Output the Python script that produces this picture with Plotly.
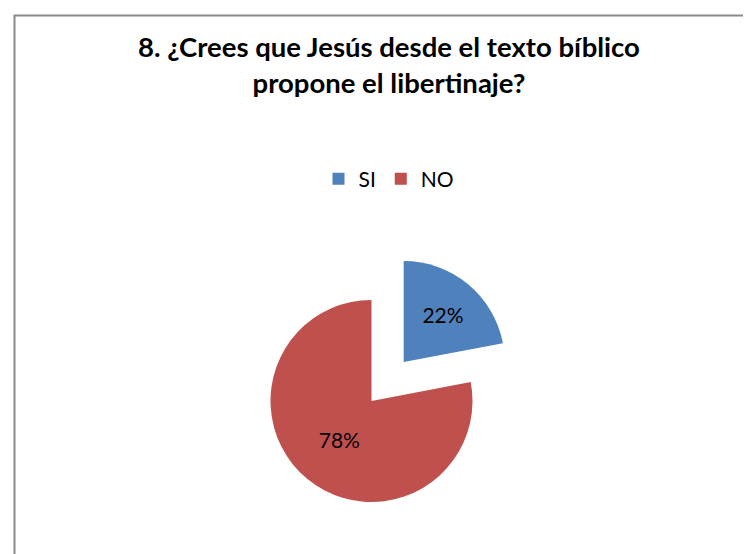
import plotly.graph_objects as go

labels = ["SI", "NO"]
values = [22, 78]
colors = ["#4F81BD", "#C0504D"]
pulls = [0.5, 0.0]
title_text = "8. ¿Crees que Jesús desde el texto bíblico<br>propone el libertinaje?"

W, H = 751, 554
cx, cy, half = 363.5, 393, 151.5

fig = go.Figure()
fig.add_trace(go.Pie(
    labels=labels,
    values=values,
    marker=dict(colors=colors, line=dict(width=0)),
    pull=pulls,
    sort=False,
    direction="clockwise",
    rotation=0,
    textinfo="percent",
    texttemplate="%{percent:.0%}",
    textposition="inside",
    insidetextorientation="horizontal",
    textfont=dict(family="Lato", size=21, color="#000000"),
    domain=dict(x=[(cx - half) / W, (cx + half) / W],
                y=[(H - cy - half) / H, (H - cy + half) / H]),
    hoverinfo="label+percent",
))

fig.update_layout(
    width=W, height=H,
    margin=dict(l=0, r=0, t=0, b=0),
    paper_bgcolor="white",
    plot_bgcolor="white",
    title=dict(text=title_text, x=381 / W, xanchor="center",
               y=1 - 49 / H, yanchor="top", yref="container",
               font=dict(family="Lato", size=27.5, color="#000000", weight="bold")),
    legend=dict(orientation="h", x=381 / W, xanchor="center",
                y=1 - 171 / H, yanchor="middle",
                font=dict(family="Lato", size=21, color="#000000"),
                itemwidth=30, tracegroupgap=0),
    shapes=[dict(type="rect", xref="paper", yref="paper",
                 x0=6.5 / W, x1=1.02, y0=-0.02, y1=1 - 7.5 / H,
                 line=dict(color="#8a8a8a", width=2), fillcolor="rgba(0,0,0,0)")],
)

fig.write_html("out.html")
